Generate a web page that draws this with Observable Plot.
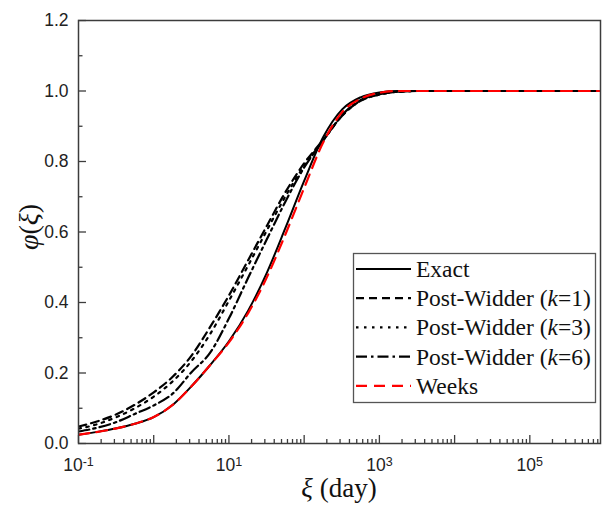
<!DOCTYPE html>
<html><head><meta charset="utf-8">
<script src="https://cdn.jsdelivr.net/npm/d3@7"></script>
<script src="https://cdn.jsdelivr.net/npm/@observablehq/plot@0.6"></script>
<style>body{margin:0;background:#fff} svg{display:block}</style>
</head><body><div id="chart"></div>
<script>
// ---- data ----
const xi = [0.1, 0.18, 0.32, 0.56, 1, 1.8, 3.2, 5.6, 10, 18, 32, 56, 100, 180, 320, 560, 1000, 1800, 3200, 10000, 100000, 1000000];
const exact = [0.025,0.033,0.043,0.056,0.075,0.11,0.163,0.222,0.29,0.377,0.485,0.61,0.745,0.87,0.948,0.982,0.996,1,1,1,1,1];
const postWidder1 = [0.048,0.063,0.083,0.11,0.145,0.19,0.25,0.33,0.42,0.52,0.618,0.712,0.795,0.862,0.93,0.972,0.99,0.998,1,1,1,1];
const postWidder3 = [0.042,0.055,0.075,0.10,0.133,0.177,0.235,0.31,0.405,0.505,0.605,0.70,0.788,0.86,0.93,0.972,0.99,0.998,1,1,1,1];
const postWidder6 = [0.034,0.045,0.061,0.084,0.108,0.142,0.203,0.257,0.355,0.47,0.58,0.685,0.783,0.86,0.932,0.974,0.991,0.998,1,1,1,1];
const weeks = [0.025,0.033,0.043,0.056,0.075,0.11,0.163,0.222,0.287,0.37,0.472,0.592,0.725,0.855,0.94,0.978,0.995,1,1,1,1,1];

const seriesNames = ["Exact", "Post-Widder (k=1)", "Post-Widder (k=3)", "Post-Widder (k=6)", "Weeks"];
const seriesValues = [exact, postWidder1, postWidder3, postWidder6, weeks];

const yMajorTicks = [0, 0.2, 0.4, 0.6, 0.8, 1.0, 1.2];
const yTickLabels = ["0.0", "0.2", "0.4", "0.6", "0.8", "1.0", "1.2"];
const yMinorTicks = [0.1, 0.3, 0.5, 0.7, 0.9, 1.1];
const xMajorTicks = [0.1, 1, 10, 100, 1000, 10000, 100000];
const xLabelTicks = [0.1, 10, 1000, 100000];
const xLabelExps = ["-1", "1", "3", "5"];

const xDomain = [0.1, 870000];
const xMinorTicks = xMajorTicks.flatMap(d => [2,3,4,5,6,7,8,9].map(m => d * m)).filter(v => v <= xDomain[1]);

// ---- styles ----
const styles = {
  "Exact": {stroke: "#000", dash: null, width: 2},
  "Post-Widder (k=1)": {stroke: "#000", dash: "8,5", width: 2.2},
  "Post-Widder (k=3)": {stroke: "#000", dash: "2.5,5.5", width: 2.2},
  "Post-Widder (k=6)": {stroke: "#000", dash: "11,4,2.5,4", width: 2.2},
  "Weeks": {stroke: "#ff0000", dash: "11,7", width: 2.2}
};

const rows = seriesNames.flatMap((s, k) => xi.map((x, i) => ({xi: x, phi: seriesValues[k][i], series: s})));
const drawOrder = ["Post-Widder (k=6)", "Post-Widder (k=3)", "Post-Widder (k=1)", "Exact", "Weeks"];

const axisColor = "#3c3c3c";

const chart = Plot.plot({
  width: 603, height: 506,
  marginLeft: 78, marginRight: 3, marginTop: 20, marginBottom: 63,
  style: {fontFamily: "'Liberation Sans', Arial, sans-serif", fontSize: "17.5px", color: "#222", background: "#fff"},
  x: {type: "log", domain: xDomain},
  y: {domain: [0, 1.2]},
  marks: [
    ...drawOrder.map(s => Plot.line(rows.filter(r => r.series === s), {
      x: "xi", y: "phi", stroke: styles[s].stroke, strokeWidth: styles[s].width,
      strokeDasharray: styles[s].dash, curve: "monotone-x", clip: true
    })),
    Plot.axisY(yMajorTicks, {tickSize: -8, text: null, label: null, stroke: axisColor, strokeWidth: 1.3}),
    Plot.axisY(yMinorTicks, {tickSize: -4.5, text: null, label: null, stroke: axisColor, strokeWidth: 1.3}),
    Plot.axisY(yMajorTicks, {tickSize: 0, tickPadding: 10, tickFormat: d => yTickLabels[yMajorTicks.indexOf(d)], label: null}),
    Plot.axisX(xMajorTicks, {tickSize: -8, text: null, label: null, stroke: axisColor, strokeWidth: 1.3}),
    Plot.axisX(xMinorTicks, {tickSize: -4, text: null, label: null, stroke: axisColor, strokeWidth: 1.3}),
    Plot.axisX(xLabelTicks, {tickSize: 0, tickPadding: 15, tickFormat: d => "10^" + xLabelExps[xLabelTicks.indexOf(d)], label: null}),
    Plot.frame({stroke: axisColor, strokeWidth: 1.5})
  ]
});

document.getElementById("chart").appendChild(chart);

// superscripts on x tick labels
const svg = d3.select(chart);
svg.selectAll("text").each(function() {
  const t = this.textContent;
  if (t.startsWith("10^")) {
    const exp = t.slice(3);
    const el = d3.select(this);
    el.text("10");
    el.append("tspan").attr("dy", "-0.42em").attr("font-size", "12.5px").text(exp);
  }
});

const serif = "'Liberation Serif', 'Times New Roman', serif";

// y label φ(ξ)
const yl = svg.append("text").attr("transform", "translate(38,227) rotate(-90)")
  .attr("text-anchor", "middle").attr("font-family", serif).attr("font-size", "28px").attr("fill", "#111");
yl.append("tspan").attr("font-style", "italic").text("φ");
yl.append("tspan").text("(");
yl.append("tspan").attr("font-style", "italic").text("ξ");
yl.append("tspan").text(")");

// x label ξ (day)
const xl = svg.append("text").attr("x", 339).attr("y", 497)
  .attr("text-anchor", "middle").attr("font-family", serif).attr("font-size", "27px").attr("fill", "#111");
xl.append("tspan").attr("font-style", "italic").text("ξ");
xl.append("tspan").text("\u00a0(day)");

// legend
const lg = svg.append("g");
lg.append("rect").attr("x", 353.5).attr("y", 253.5).attr("width", 242).attr("height", 149)
  .attr("fill", "#fff").attr("stroke", "#555").attr("stroke-width", 1.3);
seriesNames.forEach((s, i) => {
  const cy = 269 + i * 29.2;
  lg.append("line").attr("x1", 356).attr("x2", 411).attr("y1", cy).attr("y2", cy)
    .attr("stroke", styles[s].stroke).attr("stroke-width", 2.2)
    .attr("stroke-dasharray", styles[s].dash);
  const t = lg.append("text").attr("x", 416).attr("y", cy + 8).attr("text-anchor", "start")
    .attr("font-family", serif).attr("font-size", "23.5px").attr("fill", "#111");
  const m = s.match(/^(.*\()k(=\d\))$/);
  if (m) {
    t.append("tspan").text(m[1]);
    t.append("tspan").attr("font-style", "italic").text("k");
    t.append("tspan").text(m[2]);
  } else {
    t.text(s);
  }
});
</script>
</body></html>
